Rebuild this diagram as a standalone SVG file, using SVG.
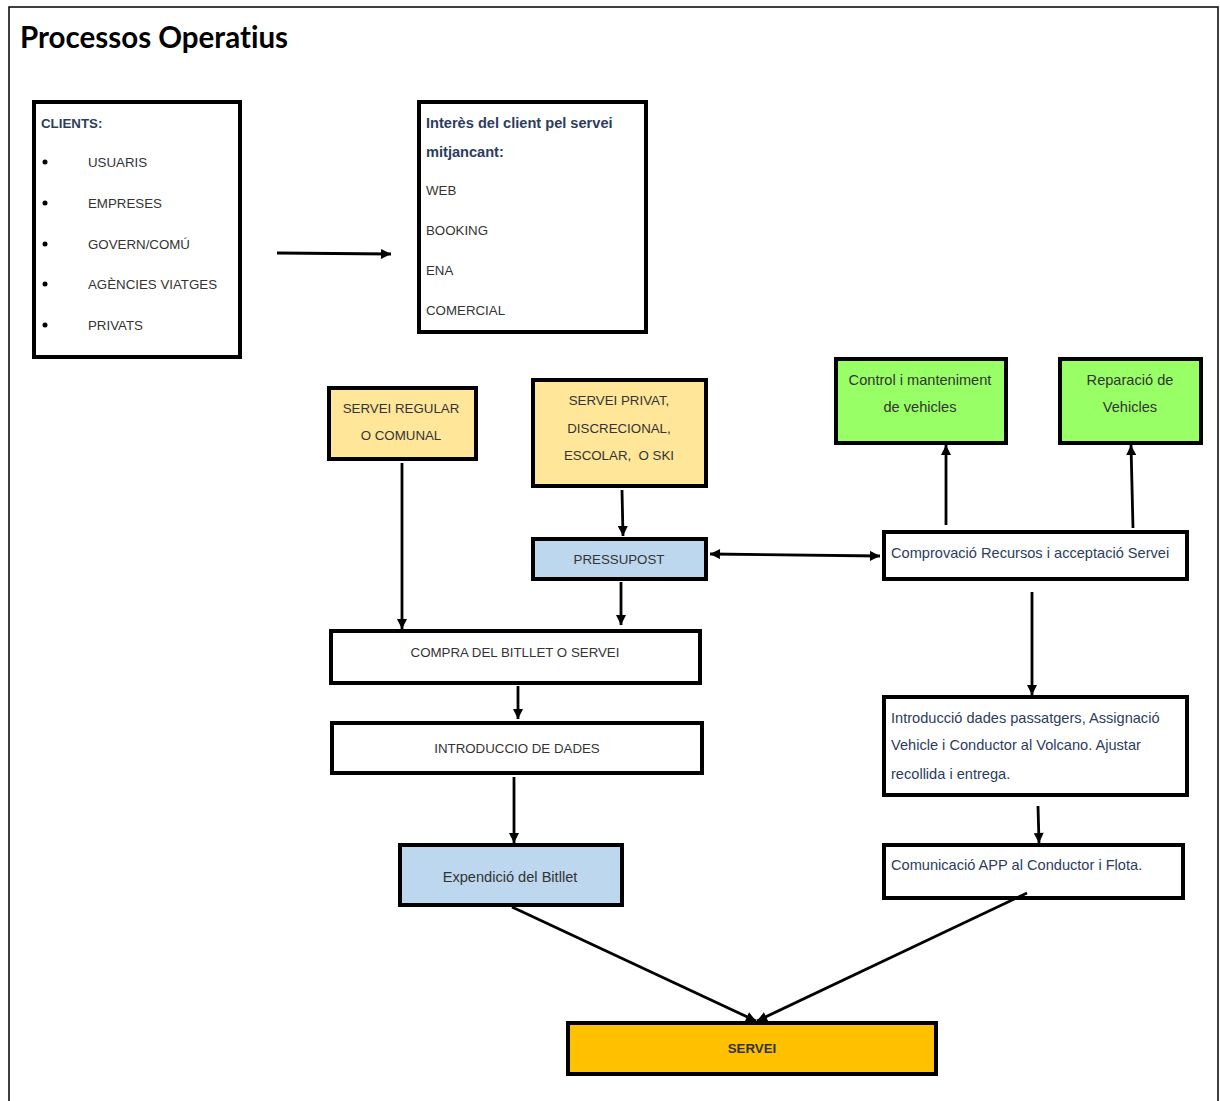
<svg xmlns="http://www.w3.org/2000/svg" width="1220" height="1101" viewBox="0 0 1220 1101">
<defs>
<marker id="ah" viewBox="0 0 10 10" refX="10" refY="5" markerWidth="11" markerHeight="10" markerUnits="userSpaceOnUse" orient="auto-start-reverse">
<path d="M0,0 L10,5 L0,10 z" fill="#000"/>
</marker>
<style>
.box{stroke:#000;stroke-width:4}
.t{font-family:"Liberation Sans",Arial,sans-serif;font-size:13.3px;fill:#333}
.n{fill:#2c3d5c}
.b{font-weight:bold}
.c{text-anchor:middle}
.m{font-size:14.6px}
.ln{stroke:#000;stroke-width:2.8;fill:none}
</style>
</defs>
<rect width="1220" height="1101" fill="#fff"/>
<rect x="9" y="7" width="1209" height="1100" fill="none" stroke="#000" stroke-width="1.5"/>
<text x="20" y="48" font-family="Lato,'Liberation Sans',sans-serif" font-size="29.5" font-weight="bold" fill="#000" style="font-variant-ligatures:none">Processos Operatius</text>

<g id="clients">
<rect class="box" x="34" y="102" width="206" height="255" fill="#fff"/>
<text class="t n b" x="41" y="128">CLIENTS:</text>
<circle cx="45" cy="162" r="2.5" fill="#000"/><text class="t" x="88" y="167">USUARIS</text>
<circle cx="45" cy="203" r="2.5" fill="#000"/><text class="t" x="88" y="208">EMPRESES</text>
<circle cx="45" cy="244" r="2.5" fill="#000"/><text class="t" x="88" y="249">GOVERN/COMÚ</text>
<circle cx="45" cy="284" r="2.5" fill="#000"/><text class="t" x="88" y="289">AGÈNCIES VIATGES</text>
<circle cx="45" cy="325" r="2.5" fill="#000"/><text class="t" x="88" y="330">PRIVATS</text>
</g>

<g id="interes">
<rect class="box" x="419" y="102" width="227" height="230" fill="#fff"/>
<text class="t n b m" x="426" y="128">Interès del client pel servei</text>
<text class="t n b m" x="426" y="157">mitjancant:</text>
<text class="t" x="426" y="195">WEB</text>
<text class="t" x="426" y="235">BOOKING</text>
<text class="t" x="426" y="275">ENA</text>
<text class="t" x="426" y="315">COMERCIAL</text>
</g>

<g id="regular">
<rect class="box" x="329" y="388" width="147" height="71" fill="#ffe699"/>
<text class="t c" x="401" y="413">SERVEI REGULAR</text>
<text class="t c" x="401" y="440">O COMUNAL</text>
</g>

<g id="privat">
<rect class="box" x="533" y="380" width="173" height="106" fill="#ffe699"/>
<text class="t c" x="619" y="405">SERVEI PRIVAT,</text>
<text class="t c" x="619" y="433">DISCRECIONAL,</text>
<text class="t c" x="619" y="460" xml:space="preserve">ESCOLAR,  O SKI</text>
</g>

<g id="pressupost">
<rect class="box" x="533" y="539" width="173" height="40" fill="#bdd7ee"/>
<text class="t c" x="619" y="564">PRESSUPOST</text>
</g>

<g id="control">
<rect class="box" x="836" y="359" width="170" height="84" fill="#99ff66"/>
<text class="t c m" x="920" y="385">Control i manteniment</text>
<text class="t c m" x="920" y="412">de vehicles</text>
</g>

<g id="reparacio">
<rect class="box" x="1060" y="359" width="141" height="84" fill="#99ff66"/>
<text class="t c m" x="1130" y="385">Reparació de</text>
<text class="t c m" x="1130" y="412">Vehicles</text>
</g>

<g id="comprovacio">
<rect class="box" x="884" y="532" width="303" height="47" fill="#fff" stroke-width="3"/>
<text class="t n m" x="891" y="558">Comprovació Recursos i acceptació Servei</text>
</g>

<g id="compra">
<rect class="box" x="331" y="631" width="369" height="52" fill="#fff"/>
<text class="t c" x="515" y="657">COMPRA DEL BITLLET O SERVEI</text>
</g>

<g id="introduccio">
<rect class="box" x="332" y="723" width="370" height="50" fill="#fff"/>
<text class="t c" x="517" y="753">INTRODUCCIO DE DADES</text>
</g>

<g id="expendicio">
<rect class="box" x="400" y="845" width="222" height="60" fill="#bdd7ee"/>
<text class="t c m" x="510" y="882">Expendició del Bitllet</text>
</g>

<g id="dades">
<rect class="box" x="884" y="697" width="303" height="98" fill="#fff"/>
<text class="t n m" x="891" y="723">Introducció dades passatgers, Assignació</text>
<text class="t n m" x="891" y="750">Vehicle i Conductor al Volcano. Ajustar</text>
<text class="t n m" x="891" y="779">recollida i entrega.</text>
</g>

<g id="comunicacio">
<rect class="box" x="884" y="845" width="299" height="53" fill="#fff"/>
<text class="t n m" x="891" y="870">Comunicació APP al Conductor i Flota.</text>
</g>

<g id="servei">
<rect class="box" x="568" y="1023" width="368" height="51" fill="#ffc000"/>
<text class="t c b" x="752" y="1053" fill="#222">SERVEI</text>
</g>

<g id="connectors">
<line class="ln" x1="277" y1="253" x2="391" y2="254" marker-end="url(#ah)"/>
<line class="ln" x1="402" y1="463" x2="402" y2="629" marker-end="url(#ah)"/>
<line class="ln" x1="622" y1="490" x2="623" y2="536" marker-end="url(#ah)"/>
<line class="ln" x1="621" y1="582" x2="621" y2="625" marker-end="url(#ah)"/>
<line class="ln" x1="710" y1="554" x2="880" y2="556" marker-start="url(#ah)" marker-end="url(#ah)"/>
<line class="ln" x1="946" y1="525" x2="946" y2="445" marker-end="url(#ah)"/>
<line class="ln" x1="1133" y1="528" x2="1131" y2="445" marker-end="url(#ah)"/>
<line class="ln" x1="518" y1="686" x2="518" y2="719" marker-end="url(#ah)"/>
<line class="ln" x1="514" y1="777" x2="514" y2="843" marker-end="url(#ah)"/>
<line class="ln" x1="1032" y1="592" x2="1032" y2="695" marker-end="url(#ah)"/>
<line class="ln" x1="1038" y1="806" x2="1039" y2="843" marker-end="url(#ah)"/>
<line class="ln" x1="512" y1="907" x2="756" y2="1021" marker-end="url(#ah)"/>
<line class="ln" x1="1027" y1="893" x2="757" y2="1021" marker-end="url(#ah)"/>
</g>
</svg>
